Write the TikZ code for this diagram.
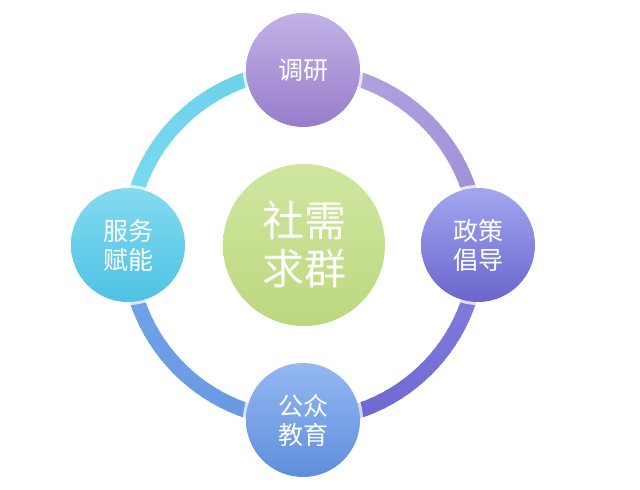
\documentclass[tikz,border=0pt]{standalone}
\usepackage{fontspec}
\newfontfamily\cjk{Noto Sans CJK SC}
\definecolor{cyanA}{HTML}{7ADCF0}
\definecolor{cyanB}{HTML}{6CCFEA}
\definecolor{purA}{HTML}{B6A6E2}
\definecolor{purB}{HTML}{9E8CD6}
\definecolor{indA}{HTML}{8480DE}
\definecolor{indB}{HTML}{6A62D0}
\definecolor{bluA}{HTML}{6896E2}
\definecolor{bluB}{HTML}{70A4E8}
\definecolor{hubT}{HTML}{D0E6A0}
\definecolor{hubB}{HTML}{BCD87E}
\definecolor{topT}{HTML}{C2B2E6}
\definecolor{topB}{HTML}{977DCA}
\definecolor{rgtT}{HTML}{A3A6EE}
\definecolor{rgtB}{HTML}{6A66CE}
\definecolor{botT}{HTML}{94B8F2}
\definecolor{botB}{HTML}{5E8EDC}
\definecolor{lftT}{HTML}{84DAF0}
\definecolor{lftB}{HTML}{4EC2E4}
\tikzset{
  sat/.style={circle, minimum size=114pt, inner sep=0pt, text=white, align=center,
    font=\cjk\fontsize{25}{29}\selectfont},
  hub/.style={circle, minimum size=162pt, inner sep=0pt, text=white, align=center,
    font=\cjk\fontsize{42}{48}\selectfont},
  glow/.style={fill=white, opacity=0.75},
}
\newcommand\myringarc[4]{%
  \foreach \i in {0,...,29}{%
    \pgfmathtruncatemacro\p{100-\i*100/29}%
    \pgfmathsetmacro\sa{#1+(#2-#1)*\i/30}%
    \pgfmathsetmacro\ea{#1+(#2-#1)*(\i+1.2)/30}%
    \colorlet{segc}{#3!\p!#4}%
    \draw[segc, line width=15pt] (O) ++(\sa:175) arc[start angle=\sa, end angle=\ea, radius=175];
  }}
\begin{document}
\begin{tikzpicture}[x=1pt,y=1pt]
\useasboundingbox[fill=white] (0,0) rectangle (640,490);
\coordinate (O) at (303,245);
\coordinate (pc) at (304,245);
\coordinate (pt) at (303,420);
\coordinate (pr) at (478,245);
\coordinate (pb) at (303,70);
\coordinate (pl) at (128,245);
\myringarc{180}{90}{cyanA}{cyanB}
\myringarc{90}{0}{purA}{purB}
\myringarc{0}{-90}{indA}{indB}
\myringarc{-90}{-180}{bluA}{bluB}
\foreach \q in {pt,pr,pb,pl}{\fill[glow] (\q) circle (60);}
\node[hub, top color=hubT, bottom color=hubB] (c) at (pc) {社需\\求群};
\node[sat, top color=topT, bottom color=topB] (t) at (pt) {调研};
\node[sat, top color=rgtT, bottom color=rgtB] (r) at (pr) {政策\\倡导};
\node[sat, top color=botT, bottom color=botB] (b) at (pb) {公众\\教育};
\node[sat, top color=lftT, bottom color=lftB] (l) at (pl) {服务\\赋能};
\end{tikzpicture}
\end{document}
